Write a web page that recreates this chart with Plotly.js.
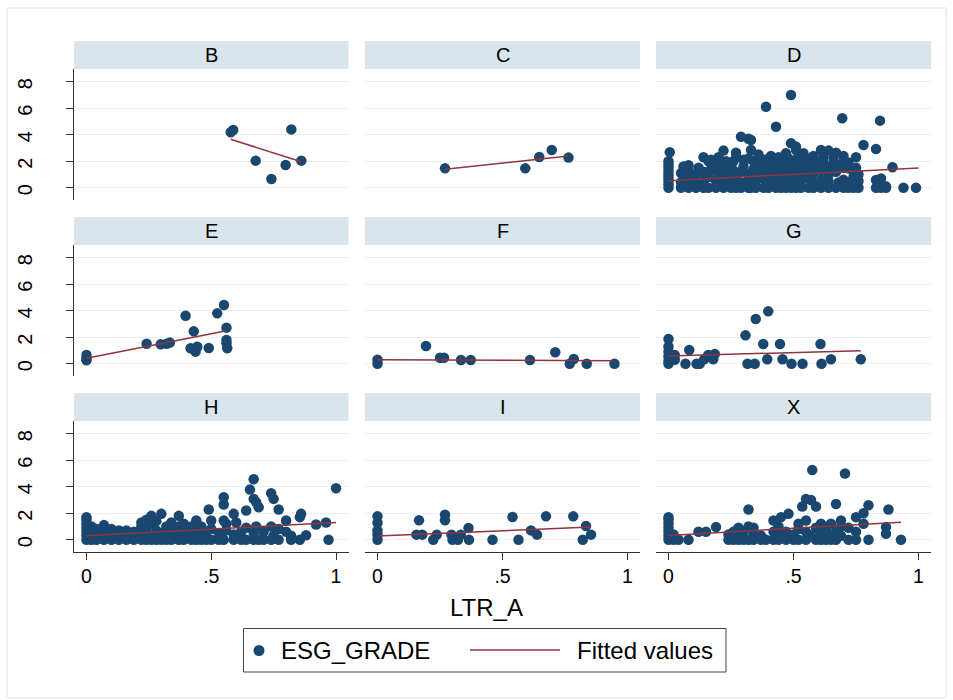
<!DOCTYPE html>
<html>
<head>
<meta charset="utf-8">
<script src="https://cdn.plot.ly/plotly-3.0.1.min.js"></script>
<style>html,body{margin:0;padding:0;background:#fff}#chart{width:953px;height:700px}</style>
</head>
<body>
<div id="chart"></div>
<script>
// ---- data ----
const panelNames = ['B','C','D','E','F','G','H','I','X'];
const yTicks = [0,2,4,6,8];
const xTickVals = [0,0.5,1];
const xTickText = ['0','.5','1'];
const seriesNames = ['ESG_GRADE','Fitted values'];
const xTitle = 'LTR_A';

const bX = [0.578,0.588,0.678,0.741,0.798,0.821,0.861];
const bY = [4.18,4.35,2.04,0.66,1.71,4.4,2.04];
const bFitX = [0.578,0.861], bFitY = [3.65,1.96];

const cX = [0.27,0.591,0.647,0.697,0.764];
const cY = [1.46,1.46,2.32,2.85,2.27];
const cFitX = [0.27,0.764], cFitY = [1.39,2.39];

const dX = [0,0,0,0,0,0,0,0,0, 0.005, 0.05,0.05,0.05, 0.08,0.08,0.08,0.08, 0.11,0.11,0.11,
  0.14,0.14,0.14,0.14, 0.16,0.16,0.16, 0.19,0.19,0.19,0.19, 0.22,0.22,0.22,0.22,
  0.25,0.25,0.25,0.25, 0.27,0.27,0.27,0.27, 0.29,0.29,0.29,0.29, 0.32,0.32,0.32,0.32,0.32,
  0.33,0.33,0.33, 0.35,0.35,0.35,0.35, 0.38,0.38,0.38,0.38, 0.39, 0.40,0.40,0.40,0.40,0.40,
  0.43,0.43,0.43,0.43,0.43, 0.45,0.45,0.45,0.45, 0.47,0.47,0.47,0.47, 0.49,0.49,0.49,0.49,0.49,
  0.51,0.51,0.51,0.51,0.51, 0.53,0.53,0.53,0.53, 0.56,0.56,0.56,0.56, 0.58,0.58,0.58,0.58,
  0.61,0.61,0.61,0.61, 0.64,0.64,0.64,0.64,0.64, 0.67,0.67,0.67, 0.695, 0.70,0.70,0.70,0.70,0.70,
  0.72,0.72,0.72, 0.74,0.74,0.74, 0.76,0.76,0.76, 0.78, 0.83,0.83,0.83, 0.846, 0.85,0.85,
  0.87,0.87, 0.896, 0.94, 0.99,
  0.06,0.06, 0.12, 0.17,0.17, 0.20,0.20,0.20, 0.23,0.23, 0.26,0.26, 0.30,0.30, 0.34,0.34,
  0.36,0.36, 0.41,0.41, 0.44,0.44, 0.46, 0.48,0.48, 0.50,0.50, 0.52,0.52, 0.54,0.54,
  0.57,0.57, 0.59,0.59, 0.62,0.62, 0.63, 0.66,0.66, 0.68,0.68, 0.72, 0.75,0.75];
const dY = [0,0.25,0.5,0.75,1.0,1.25,1.5,1.75,2.0, 2.67, 0,0.4,1.1, 0,0.6,1.3,1.7, 0,0.5,1.0,
  0,0.5,1.2,2.3, 0,0.8,2.0, 0,0.5,1.3,1.8, 0,0.6,1.1,2.8,
  0,0.5,1.0,1.6, 0,0.7,2.3,2.64, 0,0.4,1.2,3.85, 0,0.6,1.0,2.2,3.7,
  0,3.6,2.84, 0,0.5,1.1,1.6, 0,0.7,1.3,2.1, 6.11, 0,0.4,1.0,2.2,1.7,
  0,0.6,1.2,4.6,1.8, 0,0.5,1.0,2.0, 0,0.7,1.4,2.6, 0,0.4,1.1,3.35,7.0,
  0,0.6,1.3,2.84,3.1, 0,0.5,1.0,2.2, 0,0.7,1.5,1.9, 0,0.4,1.1,2.4,
  0,0.6,1.3,2.84, 0,0.5,1.0,1.6,2.8, 0,1.2,2.64, 5.24, 0,0.6,1.5,2.4,2.0,
  0,0.4,1.46, 0,0.8,1.2, 0,0.5,1.0, 3.22, 0,2.92,0.58, 5.06, 0,0.7,
  0,0.1, 1.54, 0, 0,
  0.8,1.6, 1.5, 1.4,2.1, 1.0,1.6,2.3, 1.5,2.0, 1.3,2.0, 1.6,2.1, 1.4,2.0,
  1.9,2.5, 1.4,2.4, 1.5,2.3, 1.7, 1.8,2.2, 1.6,2.0, 1.8,2.4, 1.5,2.6,
  1.2,2.2, 1.7,2.0, 1.9,2.3, 1.4, 1.8,2.2, 0.4,1.7, 1.9, 1.5,2.3];
const dFitX = [0,1.0], dFitY = [0.53,1.49];

const eX = [0,0,0,0.241,0.297,0.321,0.334,0.397,0.417,0.43,0.437,0.444,0.49,0.524,0.551,0.561,0.561,0.564,0.561];
const eY = [0.65,0.4,0.25,1.51,1.46,1.51,1.59,3.62,1.16,2.44,0.91,1.28,1.18,3.8,4.43,2.72,1.79,1.16,1.55];
const eFitX = [0,0.561], eFitY = [0.41,2.49];

const fX = [0,0,0.194,0.25,0.266,0.334,0.373,0.61,0.711,0.769,0.785,0.837,0.948];
const fY = [0.3,0,1.34,0.45,0.45,0.28,0.28,0.28,0.86,0,0.35,0,0];
const fFitX = [0,0.948], fFitY = [0.3,0.23];

const gX = [0,0,0,0,0,0,0.025,0.025,0.068,0.083,0.112,0.125,0.143,0.159,0.179,0.185,0.308,0.316,0.345,0.349,
  0.379,0.395,0.399,0.446,0.456,0.492,0.536,0.608,0.612,0.65,0.769];
const gY = [1.86,1.3,0.9,0.55,0.2,0,0.66,0.3,0,1.03,0,0,0.33,0.66,0.33,0.73,2.14,0,0,3.37,
  1.49,0.33,3.95,1.49,0.33,0,0,1.49,0,0.33,0.33];
const gFitX = [0,0.769], gFitY = [0.58,0.98];

const hX = [0,0,0,0,0,0,0, 0.02,0.02,0.02, 0.04,0.04,0.04, 0.07,0.07,0.07, 0.10,0.10,0.10,
  0.13,0.13,0.13, 0.16,0.16,0.16, 0.19,0.19,0.19, 0.22,0.22,0.22,0.22, 0.24,0.24,0.24,0.24,
  0.26,0.26,0.26,0.26, 0.28,0.28,0.28, 0.30,0.30,0.30, 0.32,0.32,0.32, 0.34,0.34,0.34,
  0.37,0.37,0.37,0.37, 0.39,0.39,0.39, 0.42,0.42,0.42, 0.44,0.44,0.44, 0.46,0.46,0.46,
  0.48,0.48, 0.49, 0.50,0.50,0.50, 0.53,0.53, 0.55,0.55,0.55,0.55, 0.56,0.56, 0.59,0.59,0.59,
  0.60, 0.62,0.62, 0.64,0.64,0.64, 0.655, 0.67,0.67,0.67,0.67, 0.68,0.68, 0.69,0.69,
  0.71,0.71, 0.74,0.74,0.74, 0.75,0.75, 0.77,0.77,0.77, 0.80,0.80, 0.82,0.82, 0.855,0.855,
  0.86, 0.88, 0.92, 0.96, 0.97, 1.0];
const hY = [0,0.3,0.6,0.9,1.2,1.5,1.7, 0,0.5,1.0, 0,0.3,0.8, 0,0.5,1.1, 0,0.3,0.8,
  0,0.5,0.7, 0,0.3,0.7, 0,0.5,0.6, 0,0.4,1.0,1.3, 0,0.6,1.5,1.0,
  0,0.3,1.8,1.2, 0,0.7,1.4, 0,0.5,1.95, 0,0.3,1.0, 0,0.6,1.3,
  0,0.4,1.8,1.0, 0,0.7,1.2, 0,0.3,1.0, 0,0.6,1.45, 0,0.4,1.0,
  0,0.6, 2.28, 0,1.45,0.8, 0,0.5, 0,1.45,3.2,2.65, 1.2,0.7, 0,1.95,0.4,
  1.3, 0,0.6, 0,2.2,0.9, 3.78, 0,4.56,3.08,0.5, 2.83,1.0, 2.45,0,
  0,0.6, 0,3.5,1.0, 3.08,0.3, 2.28,0,0.8, 0.6,1.45, 0,0.3, 1.7,0,
  1.95, 0.33, 1.15, 1.3, 0, 3.88];
const hFitX = [0,1.0], hFitY = [0.3,1.3];

const iX = [0,0,0,0,0,0.156,0.166,0.179,0.223,0.237,0.27,0.27,0.296,0.3,0.322,0.333,0.364,0.366,
  0.46,0.54,0.564,0.614,0.638,0.674,0.783,0.821,0.834,0.854];
const iY = [1.76,1.28,0.7,0.38,0,0.38,1.46,0.38,0,0.38,1.89,1.46,0.38,0,0,0.38,0.88,0,
  0,1.71,0,0.7,0.38,1.76,1.76,0,1.03,0.38];
const iFitX = [0,0.854], iFitY = [0.27,0.95];

const xX = [0,0,0,0,0,0,0, 0.02,0.02, 0.04, 0.08, 0.12, 0.15, 0.19, 0.24,0.24, 0.26,0.26,
  0.28,0.28,0.28, 0.30,0.30, 0.32,0.32,0.32, 0.34,0.34,0.34, 0.37,0.37, 0.39, 0.42,0.42,0.42,
  0.44,0.44,0.44, 0.45, 0.47,0.47, 0.48, 0.50,0.50, 0.52,0.52,0.52, 0.535, 0.55,0.55,0.55,0.55,
  0.57,0.57, 0.575, 0.59,0.59,0.59, 0.61,0.61,0.61, 0.63,0.63, 0.65,0.65,0.65, 0.67,0.67,0.67,
  0.69,0.69,0.69, 0.706, 0.72,0.72, 0.75,0.75,0.75, 0.78,0.78, 0.80,0.80, 0.87,0.87, 0.88, 0.93];
const xY = [0,0.3,0.6,0.9,1.2,1.5,1.7, 0,0.4, 0, 0, 0.6, 0.6, 0.95, 0,0.4, 0,0.6,
  0,0.3,0.9, 0,0.6, 2.28,0,1.0, 0,0.5,0.9, 0,0.3, 0, 0,1.45,0.6,
  0,0.3,1.0, 1.7, 0,0.6, 1.95, 0,0.4, 0,0.8,1.2, 2.5, 0,3.08,0.6,1.45,
  3.0,0.3, 5.26, 2.5,0,0.9, 0,0.5,1.2, 0,0.8, 0,0.3,1.2, 2.7,0,0.6,
  1.45,0.3,1.0, 5.0, 0,0.9, 1.7,0.6,0, 2.0,1.2, 2.6,0, 0.95,0.45, 2.28, 0];
const xFitX = [0,0.93], xFitY = [0.32,1.32];

// ---- build ----
const pts = {B:[bX,bY],C:[cX,cY],D:[dX,dY],E:[eX,eY],F:[fX,fY],G:[gX,gY],H:[hX,hY],I:[iX,iY],X:[xX,xY]};
const fits = {B:[bFitX,bFitY],C:[cFitX,cFitY],D:[dFitX,dFitY],E:[eFitX,eFitY],F:[fFitX,fFitY],
  G:[gFitX,gFitY],H:[hFitX,hFitY],I:[iFitX,iFitY],X:[xFitX,xFitY]};

const W = 953, H = 700;
const colPx = [[74,348.5],[365,640],[656,931]];
const rowPx = [[69,200],[245,376],[421,552]];
const stripH = 28;
const yLabelPos = 36;   // where the y tick-label axis sits (px)
const yRange = [-0.93, 8.96], xRange = [-0.05, 1.05];
const navy = '#1a476f', maroon = '#90353b';
const FONT = 'Arial, "Liberation Sans", sans-serif';
const px = v => v / W, py = v => 1 - v / H;

const traces = [];
const layout = {
  width: W, height: H,
  margin: {l:0, r:0, t:0, b:0},
  paper_bgcolor: '#ffffff', plot_bgcolor: 'rgba(0,0,0,0)',
  font: {family: FONT, color: '#000', size: 18},
  showlegend: false,
  shapes: [], annotations: []
};

panelNames.forEach((p, i) => {
  const r = Math.floor(i/3), c = i % 3;
  const xa = i === 0 ? 'x' : 'x' + (i+1);
  const ya = i === 0 ? 'y' : 'y' + (i+1);
  const xk = i === 0 ? 'xaxis' : 'xaxis' + (i+1);
  const yk = i === 0 ? 'yaxis' : 'yaxis' + (i+1);
  const bottom = r === 2, left = c === 0;
  layout[xk] = {
    domain: [px(colPx[c][0]), px(colPx[c][1])], anchor: ya,
    range: xRange, showgrid: false, zeroline: false,
    tickvals: xTickVals, ticktext: xTickText,
    showticklabels: bottom, ticks: bottom ? 'outside' : '', ticklen: 7, tickcolor: '#333',
    showline: bottom, linecolor: '#333', linewidth: 1,
    tickfont: {size: 19.5, family: FONT, color: '#000'}
  };
  layout[yk] = {
    domain: [py(rowPx[r][1]), py(rowPx[r][0])], anchor: xa,
    range: yRange, showgrid: true, gridcolor: '#e8f0f3', gridwidth: 1, zeroline: false,
    tickvals: yTicks, showticklabels: false,
    ticks: left ? 'outside' : '', ticklen: 7, tickcolor: '#333',
    showline: left, linecolor: '#333', linewidth: 1
  };
  let fitAxis = ya;
  if (left) {
    // companion axis (same range) that carries the rotated tick labels clear of the ticks
    const lid = 'y' + (10 + r);
    layout['yaxis' + (10 + r)] = {
      overlaying: ya, anchor: 'free', position: px(yLabelPos), side: 'left',
      range: yRange, tickvals: yTicks, tickangle: -90, ticklabelshift: 5,
      showgrid: false, zeroline: false,
      showline: false, ticks: '', showticklabels: true,
      tickfont: {size: 20, family: FONT, color: '#000'}
    };
    fitAxis = lid;
  }
  traces.push({
    type: 'scatter', mode: 'markers', x: pts[p][0], y: pts[p][1], xaxis: xa, yaxis: ya,
    name: seriesNames[0], showlegend: false,
    marker: {color: navy, size: 10.5, line: {width: 0}}
  });
  traces.push({
    type: 'scatter', mode: 'lines', x: fits[p][0], y: fits[p][1], xaxis: xa, yaxis: fitAxis,
    name: seriesNames[1], showlegend: false,
    line: {color: maroon, width: 1.5}
  });
  layout.shapes.push({
    type: 'rect', xref: 'paper', yref: 'paper', layer: 'below',
    x0: px(colPx[c][0]), x1: px(colPx[c][1]),
    y0: py(rowPx[r][0]), y1: py(rowPx[r][0]-stripH),
    fillcolor: '#d9e5ec', line: {width: 0}
  });
  layout.annotations.push({
    xref: 'paper', yref: 'paper', x: px((colPx[c][0]+colPx[c][1])/2),
    y: py(rowPx[r][0]-stripH/2), xanchor: 'center', yanchor: 'middle',
    text: p, showarrow: false, font: {size: 20, family: FONT, color: '#000'}
  });
});

// outer frame
layout.shapes.push({type:'rect', xref:'paper', yref:'paper', x0: px(7), x1: px(946), y0: py(698), y1: py(8),
  line:{color:'#e3e3e3', width:1}, fillcolor:'rgba(0,0,0,0)', layer:'below'});
// x-axis title
layout.annotations.push({xref:'paper', yref:'paper', x: px(486), y: py(607), xanchor:'center', yanchor:'middle',
  text: xTitle, showarrow:false, font:{size:24, family: FONT, color:'#000'}});

// legend key (Stata style)
layout.shapes.push({type:'rect', xref:'paper', yref:'paper', x0: px(243.5), x1: px(726), y0: py(672), y1: py(628.5),
  line:{color:'#444', width:1}, fillcolor:'#fff'});
layout.shapes.push({type:'circle', xref:'paper', yref:'paper', x0: px(253.5), x1: px(264.5), y0: py(656), y1: py(645),
  line:{width:0}, fillcolor: navy});
layout.shapes.push({type:'line', xref:'paper', yref:'paper', x0: px(470), x1: px(560), y0: py(650), y1: py(650),
  line:{color: maroon, width:1.5}});
layout.annotations.push({xref:'paper', yref:'paper', x: px(279), y: py(650), xanchor:'left', yanchor:'middle',
  text: seriesNames[0], showarrow:false, font:{size:24, family: FONT, color:'#000'}});
layout.annotations.push({xref:'paper', yref:'paper', x: px(575), y: py(650), xanchor:'left', yanchor:'middle',
  text: seriesNames[1], showarrow:false, font:{size:24, family: FONT, color:'#000'}});

Plotly.newPlot('chart', traces, layout, {displayModeBar: false, staticPlot: true});
</script>
</body>
</html>
